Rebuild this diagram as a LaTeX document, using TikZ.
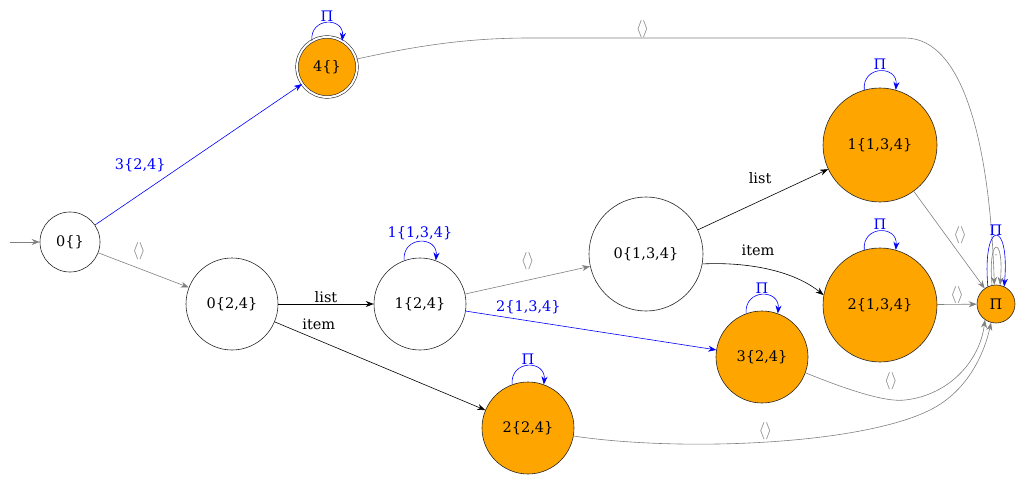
\documentclass[tikz,border=0pt]{standalone}
\usepackage{fontspec}
\setmainfont{DejaVu Serif}
\usetikzlibrary{arrows.meta,positioning}
\definecolor{xorange}{HTML}{FFA500}
\begin{document}
\begin{tikzpicture}[x=1pt,y=-1pt,font=\fontsize{14.5}{17}\selectfont,line width=0.6pt,
  st/.style={circle,draw=black!85,inner sep=0pt,minimum size=#1},
  acc/.style={st=#1,fill=xorange},
  tip/.style={-{Stealth[length=8pt,width=6pt]}},
  blk/.style={tip,draw=black},
  gry/.style={tip,draw=gray},
  blu/.style={tip,draw=blue},
  glab/.style={text=gray,font=\fontsize{16}{17}\selectfont},
  blab/.style={text=blue}]
\useasboundingbox (0,0) rectangle (1032,478);
% nodes
\node[st=60] (s0) at (70,242) {0\{\}};
\node[circle,draw=black!85,fill=xorange,double=white,double distance=2pt,minimum size=60pt,inner sep=0pt] (s4) at (327,67) {4\{\}};
\node[st=92] (a) at (232,304) {0\{2,4\}};
\node[st=92] (b) at (420,304) {1\{2,4\}};
\node[st=114] (c) at (646,254) {0\{1,3,4\}};
\node[acc=114] (d) at (880,145) {1\{1,3,4\}};
\node[acc=114] (e) at (880,305) {2\{1,3,4\}};
\node[acc=92] (f) at (762,357) {3\{2,4\}};
\node[acc=92] (g) at (528,428) {2\{2,4\}};
\node[acc=38] (p) at (996,304) {Π};
\coordinate (start) at (10,242);
% edges
\draw[gry] (start) -- (s0);
\draw[blu] (s0) -- (s4) node[pos=0.33,blab,above left=3pt and -6pt] {3\{2,4\}};
\draw[gry] (s0) -- (a) node[pos=0.45,glab,above=5pt] {$\langle\rangle$};
\draw[blk] (a) -- (b) node[midway,above=-2pt] {list};
\draw[blk] (a) -- (g) node[pos=0.1,above right=-3pt and 3pt] {item};
\draw[gry] (b) -- (c) node[midway,glab,above=7pt] {$\langle\rangle$};
\draw[blu] (b) -- (f) node[pos=0.25,blab,above=3pt] {2\{1,3,4\}};
\draw[blk] (c) -- (d) node[midway,above left=12pt and -12pt] {list};
\draw[blk] (c.-10) .. controls (740,262) and (790,268) .. (e.170) node[pos=0.45,above=8pt] {item};
\draw[gry] (s4.15) .. controls (420,45) and (470,38) .. (530,38) -- (905,38)
   node[pos=0.3,glab,above=-3pt] {$\langle\rangle$}
   .. controls (965,38) and (990,150) .. (p.95);
\draw[gry] (d) -- (p) node[pos=0.45,glab,right=4pt] {$\langle\rangle$};
\draw[gry] (e) -- (p) node[midway,glab,above=-3pt] {$\langle\rangle$};
\draw[gry] (f.-20) .. controls (860,395) and (890,402) .. (905,400)
   node[pos=0.75,glab,above=6pt] {$\langle\rangle$}
   .. controls (950,395) and (980,360) .. (p.235);
\draw[gry] (g.-10) .. controls (680,452) and (860,445) .. (930,410)
   node[pos=0.5,glab,above=-1pt] {$\langle\rangle$}
   .. controls (970,390) and (985,350) .. (p.255);
% self loops
\draw[blu] (s4.120) .. controls +(265:24) and +(275:24) .. (s4.60) node[pos=0.5,blab,above=-2pt] {Π};
\draw[blu] (b.110) .. controls +(265:25) and +(275:25) .. (b.70) node[pos=0.5,blab,above=-2pt] {1\{1,3,4\}};
\draw[blu] (d.106) .. controls +(265:25) and +(275:25) .. (d.74) node[pos=0.5,blab,above=-2pt] {Π};
\draw[blu] (e.106) .. controls +(265:25) and +(275:25) .. (e.74) node[pos=0.5,blab,above=-2pt] {Π};
\draw[blu] (f.110) .. controls +(265:25) and +(275:25) .. (f.70) node[pos=0.5,blab,above=-2pt] {Π};
\draw[blu] (g.110) .. controls +(265:25) and +(275:25) .. (g.70) node[pos=0.5,blab,above=-2pt] {Π};
\draw[blu] (p.115) .. controls +(265:68) and +(275:68) .. (p.65) node[pos=0.5,blab,above=-3pt] {Π};
\draw[gry] (p.102) .. controls +(265:50) and +(275:50) .. (p.78) node[pos=0.5,glab,below=4pt,font=\fontsize{8}{9}\selectfont] {-};
\end{tikzpicture}
\end{document}
